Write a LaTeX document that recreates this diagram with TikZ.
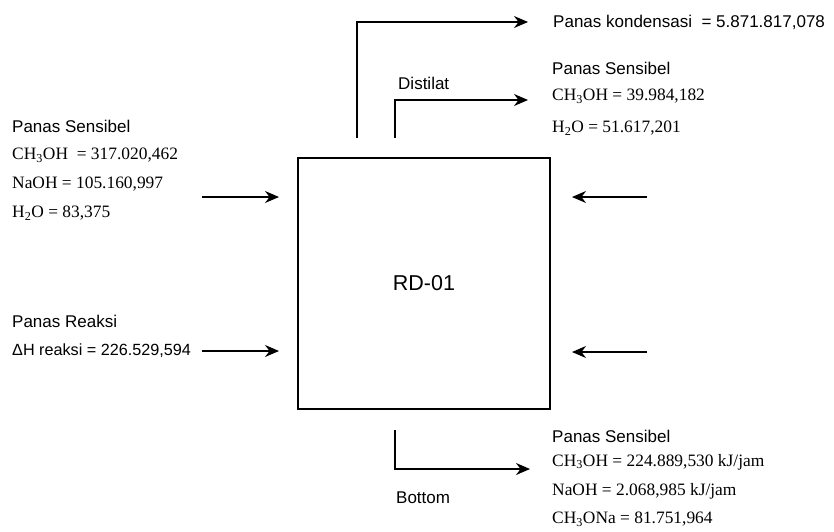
\documentclass[tikz,border=0pt]{standalone}
\usepackage{fontspec}
\setmainfont{Liberation Serif}
\setsansfont{Liberation Sans}
\usetikzlibrary{arrows.meta}

\begin{document}
\begin{tikzpicture}[x=1pt,y=-1pt,
  lbl/.style={anchor=west,inner sep=0pt,font=\sffamily\fontsize{17}{20}\selectfont},
  val/.style={anchor=west,inner sep=0pt,font=\rmfamily\fontsize{17.4}{20}\selectfont},
  flow/.style={-{Stealth[length=14pt,width=12pt]},line width=1.3pt}]
\useasboundingbox (0,0) rectangle (834,531);
\node[draw,line width=1.3pt,minimum width=252pt,minimum height=251pt,
  font=\sffamily\fontsize{21.5}{26}\selectfont] (rd) at (424,283.5) {RD-01};
% umpan masuk
\node[lbl] (ps1) at (12,126) {Panas Sensibel};
\foreach \y/\t [count=\i] in %
{155/{CH\textsubscript{3}OH \ = 317.020,462},184/{NaOH = 105.160,997},213/{H\textsubscript{2}O = 83,375}} {
   \node[val] (ps1-\i) at (12,\y) {\t};
}
\node[lbl] (pr) at (12,321) {Panas Reaksi};
\node[lbl,font=\sffamily\fontsize{16.2}{19}\selectfont] (pr-1) at (12,351) {ΔH reaksi = 226.529,594};
% distilat
\node[lbl] (pk) at (553,22) {Panas kondensasi \ = 5.871.817,078};
\node[lbl] (ps2) at (552,68) {Panas Sensibel};
\foreach \y/\t [count=\i] in %
{96/{CH\textsubscript{3}OH = 39.984,182},128/{H\textsubscript{2}O = 51.617,201}} {
   \node[val] (ps2-\i) at (552,\y) {\t};
}
\node[lbl] (dist) at (398,83) {Distilat};
% bottom
\node[lbl] (ps3) at (552,436) {Panas Sensibel};
\foreach \y/\t [count=\i] in %
{462/{CH\textsubscript{3}OH = 224.889,530 kJ/jam},491/{NaOH = 2.068,985 kJ/jam},519/{CH\textsubscript{3}ONa = 81.751,964}} {
   \node[val] (ps3-\i) at (552,\y) {\t};
}
\node[lbl] (btm) at (396,498) {Bottom};
% ujung panah
\coordinate (in1) at (202,197);  \coordinate (in1e) at (279,197);
\coordinate (in2) at (202,351);  \coordinate (in2e) at (279,351);
\coordinate (in3) at (647,197);  \coordinate (in3e) at (572,197);
\coordinate (in4) at (647,352);  \coordinate (in4e) at (572,352);
\coordinate (up1) at (357,138);  \coordinate (up1e) at (528,22);
\coordinate (up2) at (395,138);  \coordinate (up2e) at (528,100);
\coordinate (dn1) at (395,430);  \coordinate (dn1e) at (530,469);
\draw[flow] (in1) -- (in1e);
\draw[flow] (in2) -- (in2e);
\draw[flow] (in3) -- (in3e);
\draw[flow] (in4) -- (in4e);
\draw[flow] (up1) |- (up1e);
\draw[flow] (up2) |- (up2e);
\draw[flow] (dn1) |- (dn1e);
\end{tikzpicture}
\end{document}
